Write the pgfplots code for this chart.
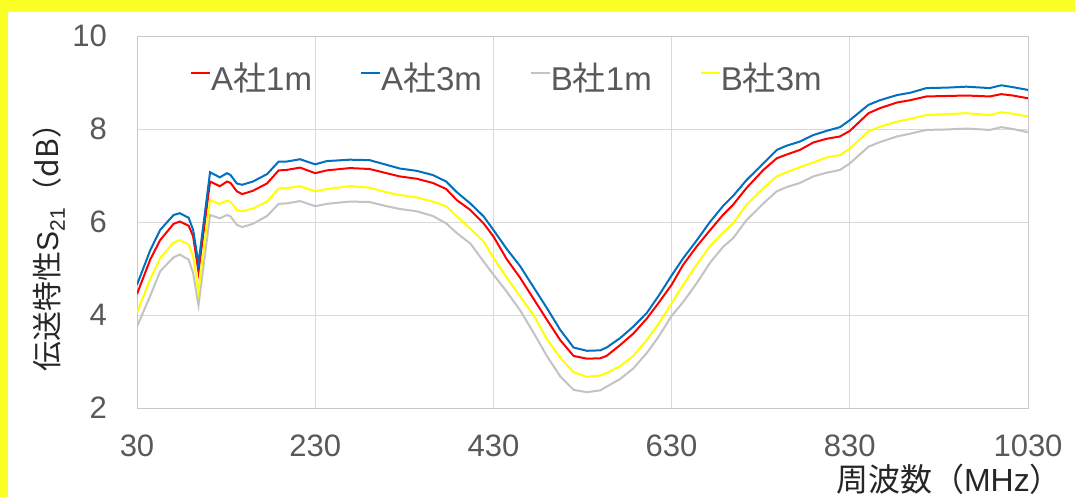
\documentclass[border=0pt]{standalone}
\usepackage{pgfplots}
\usepackage{pgfplotstable}
\pgfplotsset{compat=1.18}
\usepackage{fontspec}
\setmainfont{Liberation Sans}
\newfontfamily\jp{Noto Sans CJK JP}
\definecolor{tickgray}{HTML}{595959}
\definecolor{gridgray}{HTML}{D9D9D9}
\definecolor{framegray}{HTML}{C8C8C8}
\definecolor{bandyellow}{RGB}{250,255,38}
\definecolor{cblue}{HTML}{0070C0}
\definecolor{cgray}{HTML}{C3C3C3}
\definecolor{cyellow}{HTML}{FFFF00}
\definecolor{cred}{HTML}{FF0000}
\pgfplotstableread{
f     A1    A3    B1    B3
30    4.45  4.65  3.75  4.05
45    5.20  5.40  4.42  4.78
56    5.61  5.83  4.94  5.22
71    5.96  6.15  5.24  5.56
78    6.01  6.19  5.30  5.61
88    5.92  6.09  5.19  5.52
93    5.69  5.83  4.90  5.26
99    4.93  5.11  4.21  4.50
112   6.87  7.07  6.15  6.47
123   6.77  6.96  6.08  6.39
131   6.87  7.05  6.15  6.46
135   6.84  7.01  6.12  6.43
142   6.66  6.83  5.94  6.26
148   6.60  6.80  5.89  6.23
160   6.67  6.87  5.96  6.29
176   6.83  7.03  6.13  6.44
189   7.11  7.30  6.39  6.72
198   7.12  7.30  6.40  6.73
213   7.17  7.35  6.45  6.77
230   7.05  7.24  6.34  6.66
243   7.11  7.31  6.39  6.71
269   7.16  7.34  6.44  6.77
291   7.14  7.33  6.43  6.74
310   7.05  7.23  6.34  6.64
325   6.98  7.15  6.28  6.58
344   6.93  7.10  6.23  6.53
362   6.84  7.01  6.13  6.44
377   6.71  6.87  5.97  6.34
389   6.47  6.64  5.76  6.12
404   6.26  6.40  5.54  5.86
419   5.97  6.12  5.15  5.58
430   5.69  5.83  4.87  5.23
445   5.20  5.42  4.50  4.80
460   4.80  5.05  4.10  4.40
475   4.35  4.60  3.62  4.00
490   3.90  4.15  3.12  3.48
505   3.46  3.68  2.68  3.08
520   3.12  3.30  2.39  2.77
535   3.06  3.23  2.34  2.67
550   3.07  3.24  2.38  2.70
557   3.12  3.30  2.46  2.75
572   3.35  3.50  2.62  2.90
587   3.60  3.75  2.85  3.12
602   3.92  4.04  3.18  3.46
615   4.25  4.40  3.52  3.80
630   4.65  4.85  3.98  4.25
643   5.08  5.22  4.28  4.65
658   5.47  5.60  4.68  5.08
673   5.82  6.00  5.12  5.48
688   6.16  6.35  5.47  5.78
699   6.37  6.56  5.65  5.97
714   6.73  6.90  6.04  6.37
733   7.12  7.26  6.40  6.73
748   7.37  7.55  6.66  6.98
759   7.45  7.64  6.75  7.07
774   7.55  7.73  6.84  7.18
789   7.71  7.87  6.98  7.28
804   7.79  7.96  7.06  7.39
819   7.84  8.04  7.12  7.44
830   7.96  8.19  7.26  7.58
851   8.34  8.52  7.62  7.95
864   8.45  8.62  7.72  8.05
883   8.57  8.73  7.84  8.16
898   8.62  8.78  7.90  8.22
916   8.70  8.88  7.98  8.30
939   8.71  8.89  7.99  8.32
961   8.72  8.91  8.01  8.34
987   8.70  8.88  7.98  8.30
1000  8.75  8.94  8.04  8.36
1013  8.72  8.90  8.00  8.33
1030  8.66  8.84  7.93  8.27
}\data
\begin{document}
\begin{tikzpicture}[x=1pt,y=1pt]
\useasboundingbox (0,0) rectangle (1075,-497);
\clip (0,0) rectangle (1075,-497);
\fill[white] (0,0) rectangle (1075,-497);
\fill[bandyellow] (0,0) rectangle (1075,-12);
\fill[bandyellow] (0,0) rectangle (8,-497);
\begin{axis}[
  at={(137pt,-408pt)}, anchor=south west,
  scale only axis, width=891pt, height=372pt,
  xmin=30, xmax=1030, ymin=2, ymax=10,
  xtick={30,230,430,630,830,1030},
  ytick={2,4,6,8,10},
  grid=major,
  major grid style={gridgray, line width=1pt},
  axis line style={framegray, line width=1pt},
  major tick length=0pt,
  /pgf/number format/1000 sep={},
  /pgf/number format/assume math mode=true,
  tick label style={font=\fontsize{31}{36}\selectfont, text=tickgray, inner sep=0pt},
  xticklabel shift=27pt,
  yticklabel shift=30pt,
  legend columns=4,
  legend style={draw=none, fill=none, inner sep=0pt, at={(0.0595,0.89)}, anchor=west,
    font=\fontsize{33}{38}\selectfont, text=tickgray,
    nodes={inner sep=0pt},
    /tikz/every even column/.append style={column sep=48pt}},
  legend image code/.code={\draw[#1] (0pt,0.35em) -- (19pt,0.35em);},
  legend cell align=left,
]
\addplot[cred, line width=2pt] table[x=f,y=A1] {\data};
\addlegendentry{A{\jp 社}1m}
\addplot[cblue, line width=2pt] table[x=f,y=A3] {\data};
\addlegendentry{A{\jp 社}3m}
\addplot[cgray, line width=2pt] table[x=f,y=B1] {\data};
\addlegendentry{B{\jp 社}1m}
\addplot[cyellow, line width=2pt] table[x=f,y=B3] {\data};
\addlegendentry{B{\jp 社}3m}
\end{axis}
\node[rotate=90, text=black!85, font=\fontsize{30}{35}\selectfont] at (49,-240)
  {{\jp 伝送特性}S\textsubscript{21}{\jp （dB）}};
\node[anchor=base east, text=black!85, font=\fontsize{32}{37}\selectfont, inner sep=0pt] at (1062,-491)
  {{\jp 周波数（}MHz{\jp ）}};
\end{tikzpicture}
\end{document}
